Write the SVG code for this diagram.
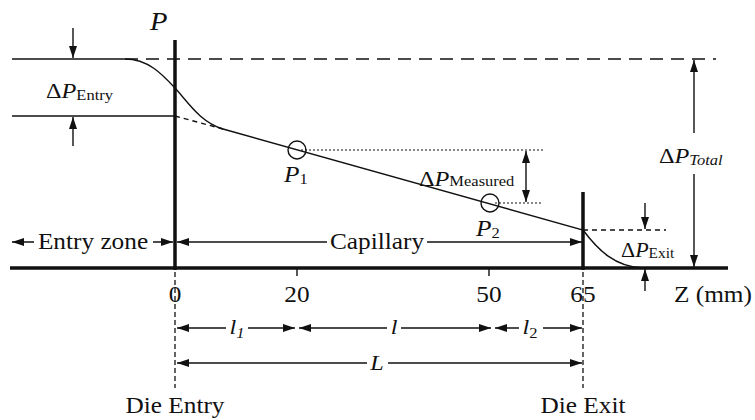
<svg xmlns="http://www.w3.org/2000/svg" width="755" height="420" viewBox="0 0 755 420">
<defs>
<marker id="ah" viewBox="0 0 12 8" refX="12" refY="4" markerWidth="12" markerHeight="8" markerUnits="userSpaceOnUse" orient="auto-start-reverse"><path d="M0,0 L12,4 L0,8 z" fill="#111"/></marker>
<style>
text{font-family:"Liberation Serif","Times New Roman",serif;fill:#111;}
.t{font-size:23px;}
.bg{fill:#fff;stroke:none;}
.thin{stroke:#111;stroke-width:1.4;fill:none;}
.thick{stroke:#111;stroke-width:3.5;fill:none;}
.arr{stroke:#111;stroke-width:1.4;fill:none;marker-end:url(#ah);}
.darr{stroke:#111;stroke-width:1.4;fill:none;marker-end:url(#ah);marker-start:url(#ah);}
.dash{stroke:#111;stroke-width:1.4;fill:none;stroke-dasharray:13,8;}
.dash2{stroke:#111;stroke-width:1.4;fill:none;stroke-dasharray:5,4;}
.dot{stroke:#111;stroke-width:1;fill:none;stroke-dasharray:2,2;}
.vdash{stroke:#111;stroke-width:1.3;fill:none;stroke-dasharray:5,3;}
.i{font-style:italic;}
</style>
</defs>

<g id="axes">
<line class="thick" x1="10" y1="268" x2="728" y2="268"/>
<line class="thick" x1="175" y1="40" x2="175" y2="270"/>
<line class="thick" x1="583" y1="192" x2="583" y2="270"/>
<line class="thin" x1="297" y1="268" x2="297" y2="276"/>
<line class="thin" x1="489" y1="268" x2="489" y2="276"/>
<line class="vdash" x1="175" y1="272" x2="175" y2="388"/>
<line class="vdash" x1="583" y1="272" x2="583" y2="388"/>
<text class="i" font-size="26" transform="matrix(1.1,0,0,1,150,30)">P</text>
<text class="t" text-anchor="middle" transform="matrix(1.1,0,0,1,175,302)">0</text>
<text class="t" text-anchor="middle" transform="matrix(1.1,0,0,1,297,302)">20</text>
<text class="t" text-anchor="middle" transform="matrix(1.1,0,0,1,489,302)">50</text>
<text class="t" text-anchor="middle" transform="matrix(1.1,0,0,1,583,302)">65</text>
<text class="t" transform="matrix(1.1,0,0,1,674,302)">Z (mm)</text>
</g>

<g id="pressure-profile">
<line class="thin" x1="12" y1="59" x2="125" y2="59"/>
<line class="thin" x1="12" y1="116" x2="175" y2="116"/>
<line class="dash" x1="125" y1="59" x2="716" y2="59"/>
<line class="dash2" x1="175" y1="116" x2="223" y2="129"/>
<path class="thin" d="M125,59 C148,59 162,74 175,88 C188,102 200,122 223,129 L583,230 C598,250 615,267 643,268"/>
<line class="dash2" x1="583" y1="230" x2="666" y2="230"/>
</g>

<g id="P1">
<circle class="thin" cx="297" cy="150" r="9"/>
<text transform="matrix(1.1,0,0,1,284,182)"><tspan class="i" font-size="23">P</tspan><tspan font-size="15" dy="2">1</tspan></text>
</g>
<g id="P2">
<circle class="thin" cx="490" cy="203" r="9"/>
<text transform="matrix(1.1,0,0,1,476,236)"><tspan class="i" font-size="23">P</tspan><tspan font-size="15" dy="2">2</tspan></text>
</g>

<g id="dP-entry">
<line class="arr" x1="73" y1="28" x2="73" y2="58"/>
<line class="arr" x1="73" y1="146" x2="73" y2="117"/>
<text transform="matrix(1.1,0,0,1,46,98)"><tspan font-size="22">Δ</tspan><tspan class="i" font-size="22">P</tspan><tspan font-size="15" dy="2">Entry</tspan></text>
</g>

<g id="dP-measured">
<line class="dot" x1="301" y1="150" x2="543" y2="150"/>
<line class="dot" x1="495" y1="203" x2="543" y2="203"/>
<line class="darr" x1="526" y1="151" x2="526" y2="202"/>
<text transform="matrix(1.1,0,0,1,419,186)"><tspan font-size="22">Δ</tspan><tspan class="i" font-size="22">P</tspan><tspan font-size="15">Measured</tspan></text>
</g>

<g id="dP-total">
<line class="arr" x1="694" y1="133" x2="694" y2="60"/>
<line class="arr" x1="694" y1="174" x2="694" y2="267"/>
<text transform="matrix(1.1,0,0,1,659,163)"><tspan font-size="22">Δ</tspan><tspan class="i" font-size="22">P</tspan><tspan class="i" font-size="15" dy="2">Total</tspan></text>
</g>

<g id="dP-exit">
<line class="arr" x1="645" y1="203" x2="645" y2="229"/>
<line class="arr" x1="645" y1="291" x2="645" y2="269"/>
<text transform="matrix(1.1,0,0,1,621,257)"><tspan font-size="20">Δ</tspan><tspan class="i" font-size="20">P</tspan><tspan font-size="14" dy="1">Exit</tspan></text>
</g>

<g id="connectors">
<line class="darr" x1="12" y1="242" x2="173" y2="242"/>
<line class="darr" x1="177" y1="242" x2="582" y2="242"/>
<line class="darr" x1="177" y1="328" x2="295" y2="328"/>
<line class="darr" x1="299" y1="328" x2="491" y2="328"/>
<line class="darr" x1="495" y1="328" x2="582" y2="328"/>
<line class="darr" x1="177" y1="363" x2="582" y2="363"/>
</g>

<g id="zone-labels">
<rect class="bg" x="34" y="230" width="119" height="24"/>
<rect class="bg" x="327" y="230" width="100" height="24"/>
<rect class="bg" x="226" y="316" width="22" height="24"/>
<rect class="bg" x="387" y="316" width="14" height="24"/>
<rect class="bg" x="519" y="316" width="24" height="24"/>
<rect class="bg" x="367" y="351" width="21" height="24"/>
<text class="t" text-anchor="middle" transform="matrix(1.1,0,0,1,93,249)">Entry zone</text>
<text class="t" text-anchor="middle" transform="matrix(1.1,0,0,1,377,249)">Capillary</text>
<text text-anchor="middle" transform="matrix(1.1,0,0,1,237,334)"><tspan class="i" font-size="22">l</tspan><tspan class="i" font-size="15" dy="4">1</tspan></text>
<text class="i" font-size="22" text-anchor="middle" transform="matrix(1.1,0,0,1,394,334)">l</text>
<text text-anchor="middle" transform="matrix(1.1,0,0,1,530,334)"><tspan class="i" font-size="22">l</tspan><tspan font-size="15" dy="4">2</tspan></text>
<text class="i" font-size="22" text-anchor="middle" transform="matrix(1.1,0,0,1,377,370)">L</text>
<text class="t" text-anchor="middle" transform="matrix(1.1,0,0,1,175,413)">Die Entry</text>
<text class="t" text-anchor="middle" transform="matrix(1.1,0,0,1,583,413)">Die Exit</text>
</g>
</svg>
